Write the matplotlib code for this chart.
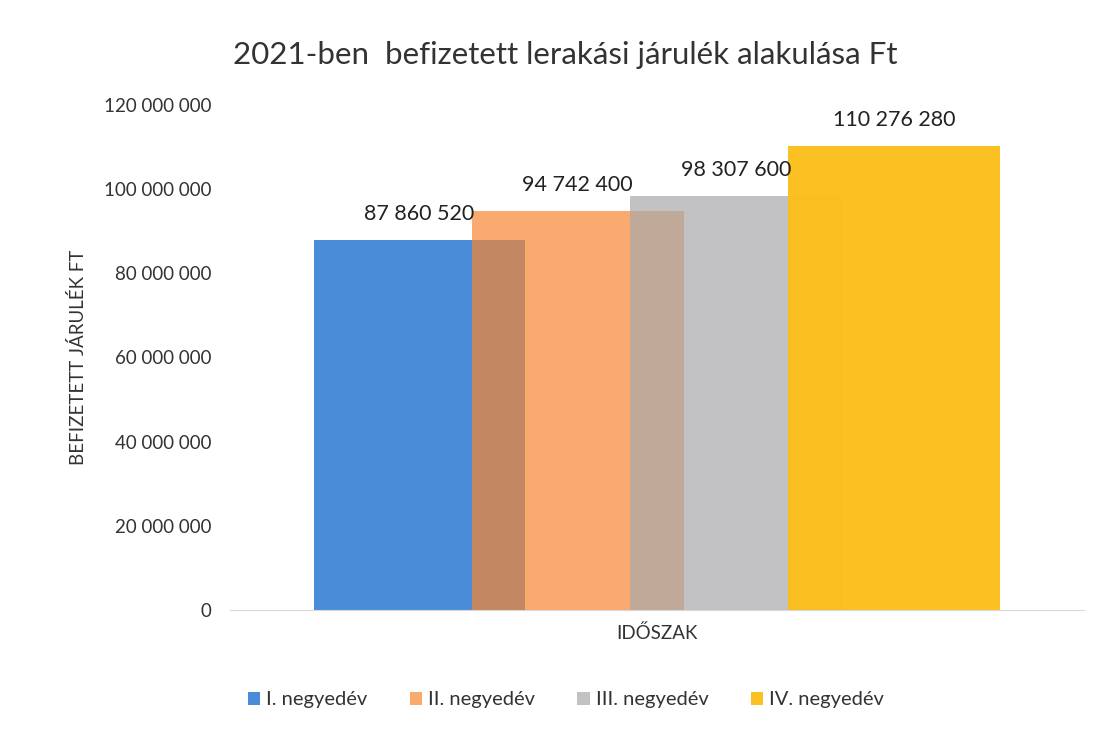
import matplotlib.pyplot as plt
import numpy as np

plt.rcParams['font.family'] = ['Lato', 'DejaVu Sans']

title = "2021-ben  befizetett lerakási járulék alakulása Ft"
series = ['I. negyedév', 'II. negyedév', 'III. negyedév', 'IV. negyedév']
values = [87860520, 94742400, 98307600, 110276280]
colors = ['#4A8CD8', '#F88630', '#A9A9AD', '#FBBE1A']
alphas = [1.0, 0.7, 0.7, 0.97]
yticks = [0, 20000000, 40000000, 60000000, 80000000, 100000000, 120000000]


def fmt(v):
    return f"{v:,}".replace(",", " ")


fig = plt.figure(figsize=(10.99, 7.32), dpi=100)
ax = fig.add_axes([0.209, 0.1667, 0.777, 0.69])

pos = np.arange(len(values))
width = 1.34
for i, (v, c, a) in enumerate(zip(values, colors, alphas)):
    ax.bar(pos[i], v, width=width, color=c, alpha=a, label=series[i],
           zorder=2 + i, linewidth=0)
    ax.text(pos[i], v + 3800000, fmt(v), ha='center', va='bottom',
            fontsize=15.5, color='#222222', zorder=10)

ax.set_xlim(-1.2, 4.2)
ax.set_ylim(0, 120000000)
ax.set_yticks(yticks)
ax.set_yticklabels([fmt(t) for t in yticks], fontsize=13.5, color='#333333')
ax.tick_params(axis='y', length=0, pad=13)
ax.set_xticks([])
for s in ['top', 'right', 'left']:
    ax.spines[s].set_visible(False)
ax.spines['bottom'].set_color('#d9d9d9')

ax.set_ylabel('BEFIZETETT JÁRULÉK FT', fontsize=13.5, color='#333333', labelpad=12)
ax.set_xlabel('IDŐSZAK', fontsize=13.5, color='#333333', labelpad=10)
fig.text(0.514, 0.925, title, ha='center', va='center', fontsize=22.5, color='#333333')

fig.legend(loc='center', bbox_to_anchor=(0.515, 0.044), ncol=4, frameon=False,
           fontsize=14.5, handlelength=0.6, handleheight=0.6, handletextpad=0.3,
           columnspacing=2.1, labelcolor='#333333')

fig.savefig('out.png', dpi=100)
